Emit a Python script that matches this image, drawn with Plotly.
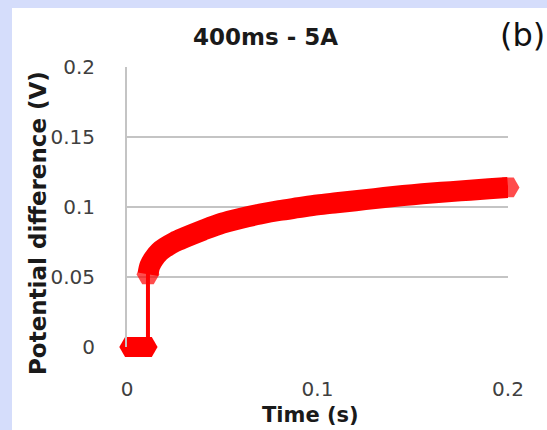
import plotly.graph_objects as go

# Data
time_zero = [0.002, 0.004, 0.006, 0.008, 0.010, 0.011]
volt_zero = [0.0, 0.0, 0.0, 0.0, 0.0, 0.0]

time_rise = [0.011, 0.012, 0.014, 0.017, 0.020, 0.025, 0.030, 0.040, 0.050,
             0.060, 0.070, 0.080, 0.090, 0.100, 0.110, 0.120, 0.130, 0.140,
             0.150, 0.160, 0.170, 0.180, 0.190, 0.200]
volt_rise = [0.052, 0.058, 0.063, 0.068, 0.071, 0.075, 0.078, 0.0835, 0.0885,
             0.092, 0.095, 0.0975, 0.0995, 0.1015, 0.103, 0.1045, 0.106, 0.1075,
             0.1088, 0.110, 0.111, 0.112, 0.113, 0.114]

x_ticks = [0, 0.1, 0.2]
x_tick_labels = ["0", "0.1", "0.2"]
y_ticks = [0, 0.05, 0.1, 0.15, 0.2]
y_tick_labels = ["0", "0.05", "0.1", "0.15", "0.2"]

title_text = "400ms - 5A"
panel_label = "(b)"
x_title = "Time (s)"
y_title = "Potential difference (V)"

RED = "#ff0000"
FONT = "DejaVu Sans"
W, H = 547, 430
BAND = 21


def end_sizes(n, s):
    return [s if i in (0, n - 1) else 0 for i in range(n)]


zero_band_t = time_zero[:-1]
zero_band_v = volt_zero[:-1]

fig = go.Figure()
# thin connecting line through all points (shows the jump)
fig.add_trace(go.Scatter(x=time_zero + time_rise, y=volt_zero + volt_rise,
                         mode="lines", line=dict(color=RED, width=4),
                         hoverinfo="skip", showlegend=False))
# thick dense-marker band: zero segment (markers only, not clipped)
fig.add_trace(go.Scatter(x=zero_band_t, y=zero_band_v, mode="markers",
                         marker=dict(color=RED, symbol="hexagon2", size=23,
                                     line=dict(width=0)),
                         cliponaxis=False, showlegend=False))
# thick dense-marker band: rising segment
fig.add_trace(go.Scatter(x=time_rise, y=volt_rise, mode="lines+markers",
                         line=dict(color=RED, width=BAND, shape="spline",
                                   smoothing=0.8),
                         marker=dict(color=RED, symbol="hexagon2",
                                     size=end_sizes(len(time_rise), 23),
                                     line=dict(width=0)),
                         cliponaxis=False, showlegend=False))

L, R, T, B = 127, 39, 67, 83
PW, PH = W - L - R, H - T - B


def px(xp):
    return (xp - L) / PW


def py(yp):
    return 1 - (yp - T) / PH


fig.update_layout(
    width=W, height=H,
    margin=dict(l=L, r=R, t=T, b=B),
    paper_bgcolor="#d5ddfb",
    plot_bgcolor="white",
    showlegend=False,
    font=dict(family=FONT, color="#404040"),
    shapes=[dict(type="rect", xref="paper", yref="paper",
                 x0=px(12), x1=px(W), y0=py(H), y1=py(8),
                 fillcolor="white", line=dict(width=0), layer="below")],
    xaxis=dict(range=[0, 0.2], tickvals=x_ticks, ticktext=x_tick_labels,
               showgrid=False, zeroline=False, showline=False,
               ticks="", ticklabelstandoff=28,
               tickfont=dict(size=20, color="#404040", family=FONT)),
    yaxis=dict(range=[0, 0.2], tickvals=y_ticks, ticktext=y_tick_labels,
               showgrid=True, gridcolor="#c4c4c4", gridwidth=2,
               zeroline=False, showline=True, linecolor="#c4c4c4", linewidth=2,
               ticks="", ticklabelstandoff=26,
               tickfont=dict(size=20, color="#404040", family=FONT)),
    annotations=[
        dict(text="<b>" + title_text + "</b>", xref="paper", yref="paper",
             x=px(265), y=py(37), xanchor="center", yanchor="middle",
             showarrow=False, font=dict(size=23, color="#1a1a1a", family=FONT)),
        dict(text=panel_label, xref="paper", yref="paper",
             x=px(522), y=py(35), xanchor="center", yanchor="middle",
             showarrow=False, font=dict(size=32, color="#111111", family=FONT)),
        dict(text="<b>" + x_title + "</b>", xref="paper", yref="paper",
             x=px(310), y=py(415), xanchor="center", yanchor="middle",
             showarrow=False, font=dict(size=21, color="#1a1a1a", family=FONT)),
        dict(text="<b>" + y_title + "</b>", xref="paper", yref="paper",
             x=px(38), y=py(223), xanchor="center", yanchor="middle",
             showarrow=False, textangle=-90,
             font=dict(size=23, color="#1a1a1a", family=FONT)),
    ],
)

fig.write_html("out.html")
